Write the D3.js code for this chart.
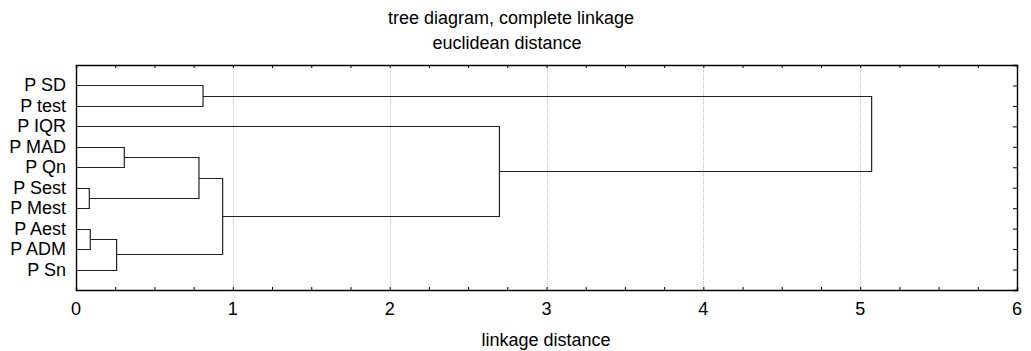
<!DOCTYPE html>
<html lang="en">
<head>
  <meta charset="utf-8">
  <title>Tree diagram</title>
  <style>
    body { margin: 0; background: #fff; }
    text { font-family: Arial, "Liberation Sans", sans-serif; fill: #000; }
  </style>
</head>
<body>
  <script src="https://cdnjs.cloudflare.com/ajax/libs/d3/7.8.5/d3.min.js"></script>
  <div id="chart"></div>
  <script type="text/javascript">
const leaves = ['P SD', 'P test', 'P IQR', 'P MAD', 'P Qn', 'P Sest', 'P Mest', 'P Aest', 'P ADM', 'P Sn'];
// merges: left cluster, right cluster, linkage distance; ids < 10 are leaves, 10+ are earlier merges
const mergeLeft = [5, 7, 11, 3, 0, 13, 15, 2, 14];
const mergeRight = [6, 8, 9, 4, 1, 10, 12, 16, 17];
const mergeHeight = [0.085, 0.091, 0.259, 0.308, 0.81, 0.784, 0.935, 2.70, 5.073];
const xTicks = [0, 1, 2, 3, 4, 5, 6];

const width = 1031, height = 351;
const plotLeft = 76, plotRight = 1017, plotTop = 65, plotBottom = 290;

const svg = d3.select('#chart')
  .append('svg')
  .attr('width', width)
  .attr('height', height);

const x = d3.scaleLinear().domain([0, 6]).range([plotLeft, plotRight]);
const y = d3.scalePoint().domain(leaves).range([plotTop, plotBottom]).padding(1);

// grid
svg.append('g')
  .selectAll('line')
  .data(xTicks.slice(1, -1))
  .enter()
  .append('line')
  .attr('x1', d => Math.round(x(d)) + 0.5)
  .attr('x2', d => Math.round(x(d)) + 0.5)
  .attr('y1', plotTop)
  .attr('y2', plotBottom)
  .style('stroke', '#bdbdbd')
  .style('stroke-dasharray', '1,1');

// bottom / top axes with inward ticks
const minor = d3.range(0, 6.001, 0.25);
const xAxisBottom = d3.axisBottom(x).tickValues(minor).tickSize(-3).tickFormat('');
const xAxisTop = d3.axisTop(x).tickValues(minor).tickSize(-3).tickFormat('');

svg.append('g')
  .attr('transform', `translate(0, ${plotBottom})`)
  .call(xAxisBottom);
svg.append('g')
  .attr('transform', `translate(0, ${plotTop})`)
  .call(xAxisTop);

svg.append('g')
  .selectAll('text')
  .data(xTicks)
  .enter()
  .append('text')
  .attr('x', d => x(d))
  .attr('y', 315)
  .attr('text-anchor', 'middle')
  .style('font-size', '18px')
  .text(d => d);

const yAxisRight = d3.axisRight(y).tickSize(-4).tickFormat('');
svg.append('g')
  .attr('transform', `translate(${plotRight}, 0)`)
  .call(yAxisRight);

const yAxisLeft = d3.axisLeft(y).tickSize(0).tickFormat('');
svg.append('g')
  .attr('transform', `translate(${plotLeft}, 0)`)
  .call(yAxisLeft);

svg.selectAll('.domain').style('stroke', '#000').style('stroke-width', 1.4);
svg.selectAll('.tick line').style('stroke', '#000');

// leaf labels
svg.append('g')
  .selectAll('text')
  .data(leaves)
  .enter()
  .append('text')
  .attr('x', 66)
  .attr('y', d => y(d) + 6)
  .attr('text-anchor', 'end')
  .style('font-size', '18px')
  .text(d => d);

// dendrogram
const nodes = leaves.map(d => ({ x: 0, y: y(d) }));
const paths = [];
mergeHeight.forEach((h, i) => {
  const a = nodes[mergeLeft[i]], b = nodes[mergeRight[i]];
  paths.push([[a.x, a.y], [h, a.y], [h, b.y], [b.x, b.y]]);
  nodes.push({ x: h, y: (a.y + b.y) / 2 });
});

const line = d3.line().x(d => x(d[0])).y(d => Math.round(d[1]) + 0.5);
svg.append('g')
  .selectAll('path')
  .data(paths)
  .enter()
  .append('path')
  .attr('d', line)
  .style('fill', 'none')
  .style('stroke', '#222')
  .style('stroke-width', 1.2);

// titles
svg.append('text')
  .attr('x', 511)
  .attr('y', 24)
  .attr('text-anchor', 'middle')
  .style('font-size', '18px')
  .text('tree diagram, complete linkage');
svg.append('text')
  .attr('x', 507)
  .attr('y', 49)
  .attr('text-anchor', 'middle')
  .style('font-size', '18px')
  .text('euclidean distance');
svg.append('text')
  .attr('x', 546)
  .attr('y', 346)
  .attr('text-anchor', 'middle')
  .style('font-size', '18px')
  .text('linkage distance');
  </script>
</body>
</html>
